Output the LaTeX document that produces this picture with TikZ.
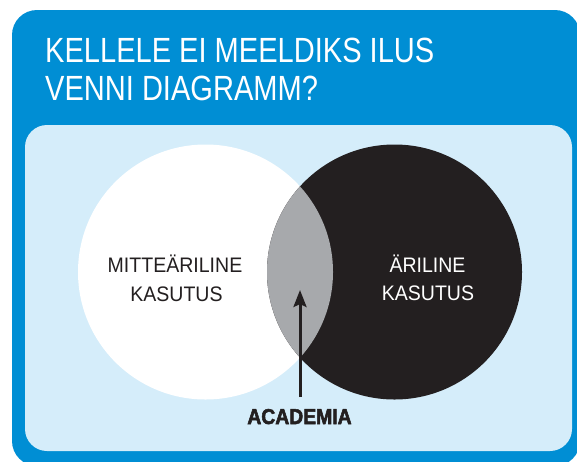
\documentclass[tikz,border=0pt]{standalone}
\usepackage{fontspec}
\setmainfont{Liberation Sans}
\newfontfamily\titlefont[FakeStretch=0.83]{Liberation Sans}
\newfontfamily\bodyfont[FakeStretch=0.93]{Liberation Sans}
\newfontfamily\boldcond[FakeStretch=0.9,FakeBold=2.5]{Liberation Sans Bold}
\usetikzlibrary{arrows.meta}
\definecolor{outerblue}{RGB}{0,142,212}
\definecolor{innerblue}{RGB}{213,237,250}
\definecolor{darkc}{RGB}{35,31,32}
\definecolor{lensgray}{RGB}{167,169,172}
\tikzset{
  titletext/.style={anchor=base west, inner sep=0pt, text=white, font=\titlefont\fontsize{35}{35}\selectfont},
  bodytext/.style={anchor=base, inner sep=0pt, font=\bodyfont\fontsize{21}{21}\selectfont},
  acadtext/.style={anchor=base, inner sep=0pt, text=darkc, font=\boldcond\fontsize{21.5}{21.5}\selectfont}
}
\begin{document}
\begin{tikzpicture}[x=1pt,y=-1pt]
\useasboundingbox (0,0) rectangle (577,461);
\clip (0,0) rectangle (577,461);
% panels
\fill[outerblue, rounded corners=25pt] (12,10) rectangle (580,466);
\fill[innerblue, rounded corners=22pt] (25,125) rectangle (572,451);
% circles
\fill[white] (205.5,272) circle[radius=127.5pt];
\fill[darkc] (394.5,272) circle[radius=127.5pt];
\begin{scope}
  \clip (205.5,272) circle[radius=127.5pt];
  \fill[lensgray] (394.5,272) circle[radius=127.5pt];
\end{scope}
% title
\node[titletext] (t1) at (45,62) {KELLELE EI MEELDIKS ILUS};
\node[titletext] (t2) at (45,100) {VENNI DIAGRAMM?};
% labels
\node[bodytext, text=darkc] (l1) at (175,272) {MITTEÄRILINE};
\node[bodytext, text=darkc] (l2) at (176.5,301) {KASUTUS};
\node[bodytext, text=white] (r1) at (427.5,272) {ÄRILINE};
\node[bodytext, text=white] (r2) at (428,300) {KASUTUS};
\node[acadtext] (acad) at (299.5,424) {ACADEMIA};
\coordinate (abot) at (300,397);
\coordinate (atip) at (300,290);
\draw[darkc, line width=3pt, -{Stealth[length=17pt,width=13pt,inset=3pt]}] (abot) -- (atip);
\end{tikzpicture}
\end{document}
